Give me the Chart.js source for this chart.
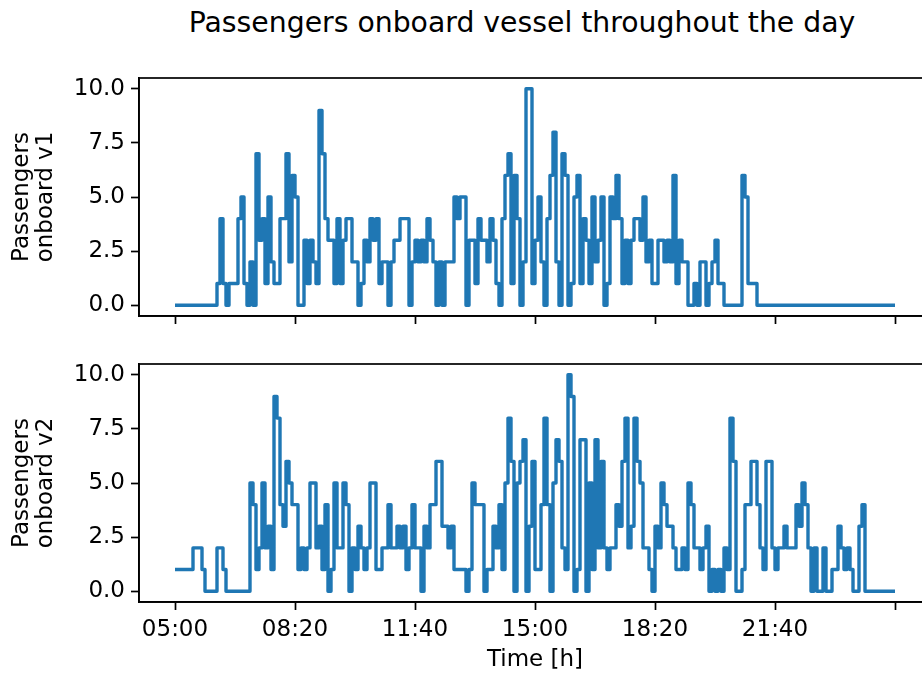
<!DOCTYPE html>
<html>
<head>
<meta charset="utf-8">
<title>Passengers onboard vessel throughout the day</title>
<script src="https://cdn.jsdelivr.net/npm/chart.js@4.4.1/dist/chart.umd.min.js"></script>
<style>
    html, body {
        margin: 0;
        padding: 0;
        width: 922px;
        height: 675px;
        overflow: hidden;
        background: #ffffff;
    }
    #suptitle {
        position: absolute;
        left: 0;
        width: 1044px;
        top: 7px;
        text-align: center;
        font-family: 'DejaVu Sans', sans-serif;
        font-size: 28.3px;
        line-height: 31px;
        color: #000;
        white-space: nowrap;
    }
    #chartV1 { position: absolute; left: 0; top: 0; }
    #chartV2 { position: absolute; left: 0; top: 340px; }
</style>
</head>
<body>
<div id="suptitle">Passengers onboard vessel throughout the day</div>
<canvas id="chartV1" width="940" height="340"></canvas>
<canvas id="chartV2" width="940" height="335"></canvas>

<script>
// Sampling step of the series, minutes after 05:00
const stepMinutes = 5;

// Passengers onboard vessel 1 (one value per 5 minutes, 05:00 -> 01:00)
const passengersV1 = [
    0, 0, 0, 0, 0, 0, 0, 0, 0, 0,
    0, 0, 0, 0, 1, 4, 1, 0, 1, 1,
    1, 4, 5, 1, 0, 2, 0, 7, 3, 4,
    1, 5, 2, 1, 1, 4, 4, 7, 2, 6,
    5, 0, 0, 3, 1, 3, 2, 1, 9, 7,
    4, 3, 3, 1, 4, 1, 3, 4, 4, 2,
    2, 0, 1, 3, 2, 4, 3, 4, 1, 2,
    2, 0, 2, 3, 3, 4, 4, 4, 0, 2,
    3, 2, 3, 2, 4, 3, 2, 0, 2, 0,
    2, 2, 2, 5, 4, 5, 5, 0, 3, 3,
    1, 4, 3, 3, 2, 4, 3, 1, 0, 4,
    6, 7, 1, 6, 4, 0, 2, 10, 10, 1,
    3, 5, 2, 0, 4, 6, 8, 2, 0, 7,
    6, 0, 1, 5, 6, 1, 4, 3, 1, 5,
    2, 3, 5, 0, 1, 5, 4, 6, 4, 1,
    3, 1, 3, 4, 4, 3, 5, 2, 3, 1,
    1, 3, 3, 2, 3, 2, 6, 1, 3, 2,
    2, 0, 0, 1, 0, 2, 2, 0, 1, 2,
    3, 1, 1, 0, 0, 0, 0, 0, 0, 6,
    5, 1, 1, 1, 0, 0, 0, 0, 0, 0,
    0, 0, 0, 0, 0, 0, 0, 0, 0, 0,
    0, 0, 0, 0, 0, 0, 0, 0, 0, 0,
    0, 0, 0, 0, 0, 0, 0, 0, 0, 0,
    0, 0, 0, 0, 0, 0, 0, 0, 0, 0,
    0
];

// Passengers onboard vessel 2
const passengersV2 = [
    1, 1, 1, 1, 1, 1, 2, 2, 2, 1,
    0, 0, 0, 0, 2, 2, 1, 0, 0, 0,
    0, 0, 0, 0, 0, 5, 4, 1, 2, 5,
    2, 3, 1, 9, 8, 4, 3, 6, 5, 4,
    4, 1, 2, 1, 2, 5, 5, 2, 3, 1,
    4, 0, 1, 5, 2, 2, 5, 4, 0, 2,
    1, 3, 2, 1, 2, 5, 5, 1, 1, 2,
    2, 4, 2, 2, 3, 2, 3, 1, 2, 4,
    2, 2, 0, 3, 2, 4, 4, 6, 6, 3,
    3, 2, 3, 1, 1, 1, 1, 0, 1, 5,
    4, 4, 4, 0, 1, 1, 3, 2, 4, 1,
    5, 8, 6, 0, 5, 6, 7, 0, 3, 6,
    1, 1, 4, 8, 4, 0, 5, 7, 6, 2,
    1, 10, 9, 0, 1, 7, 7, 0, 5, 1,
    7, 2, 6, 2, 1, 2, 2, 4, 3, 6,
    8, 2, 3, 8, 6, 5, 2, 2, 1, 0,
    3, 2, 5, 4, 3, 3, 2, 1, 1, 2,
    1, 5, 4, 2, 2, 1, 2, 3, 0, 1,
    0, 1, 0, 2, 1, 8, 6, 0, 0, 1,
    4, 4, 6, 6, 4, 2, 1, 6, 6, 2,
    1, 2, 2, 3, 2, 2, 2, 4, 3, 5,
    4, 2, 0, 2, 0, 0, 2, 0, 0, 1,
    1, 3, 2, 1, 2, 1, 0, 0, 3, 4,
    0, 0, 0, 0, 0, 0, 0, 0, 0, 0,
    0
];

// Axis ticks
const timeTicks = [0, 200, 400, 600, 800, 1000, 1200];
const timeTickLabels = ['05:00', '08:20', '11:40', '15:00', '18:20', '21:40', ''];
const passengerTicks = [0, 2.5, 5, 7.5, 10];

document.addEventListener('DOMContentLoaded', function() {
    Chart.defaults.font.family = "'DejaVu Sans', sans-serif";
    Chart.defaults.color = '#000';

    createPassengerChart('chartV1', passengersV1, ['Passengers', 'onboard v1'], false);
    createPassengerChart('chartV2', passengersV2, ['Passengers', 'onboard v2'], true);
});

// Draws the full box around the plot area, like matplotlib spines
const framePlugin = {
    id: 'frame',
    afterDraw(chart) {
        const { ctx, chartArea } = chart;
        ctx.save();
        ctx.strokeStyle = '#000';
        ctx.lineWidth = 1.7;
        ctx.strokeRect(chartArea.left, chartArea.top,
            chartArea.right - chartArea.left, chartArea.bottom - chartArea.top);
        ctx.restore();
    }
};

function toPoints(values) {
    return values.map((v, i) => ({ x: i * stepMinutes, y: v }));
}

function createPassengerChart(canvasId, values, yTitle, showTimeAxis) {
    const ctx = document.getElementById(canvasId).getContext('2d');
    // top chart area 78..316, bottom chart area 364..602 (page coords)
    const paddingTop = showTimeAxis ? 24 : 78;
    const xAxisHeight = showTimeAxis ? 73 : 24;

    new Chart(ctx, {
        type: 'line',
        data: {
            datasets: [{
                data: toPoints(values),
                borderColor: '#1f77b4',
                borderWidth: 3.4,
                borderJoinStyle: 'round',
                borderCapStyle: 'butt',
                stepped: 'before',
                pointRadius: 0,
                fill: false
            }]
        },
        options: {
            responsive: false,
            animation: false,
            events: [],
            layout: {
                padding: { top: paddingTop, right: 9, bottom: 0, left: 0 }
            },
            plugins: {
                legend: { display: false },
                tooltip: { enabled: false }
            },
            scales: {
                x: {
                    type: 'linear',
                    min: -60,
                    max: 1260,
                    afterBuildTicks: (scale) => {
                        scale.ticks = timeTicks.map(v => ({ value: v }));
                    },
                    afterFit: (scale) => {
                        scale.height = xAxisHeight;
                    },
                    ticks: {
                        display: showTimeAxis,
                        autoSkip: false,
                        maxRotation: 0,
                        padding: 6,
                        font: { size: 23 },
                        callback: (value) => {
                            const idx = timeTicks.indexOf(value);
                            return idx >= 0 ? timeTickLabels[idx] : '';
                        }
                    },
                    grid: {
                        drawOnChartArea: false,
                        drawTicks: true,
                        tickLength: 8,
                        tickWidth: 1.7,
                        tickColor: '#000'
                    },
                    border: { display: true, color: '#000', width: 1.7 },
                    title: {
                        display: showTimeAxis,
                        text: 'Time [h]',
                        font: { size: 23 },
                        padding: { top: 0, bottom: 1 }
                    }
                },
                y: {
                    min: -0.5,
                    max: 10.5,
                    afterBuildTicks: (scale) => {
                        scale.ticks = passengerTicks.map(v => ({ value: v }));
                    },
                    afterFit: (scale) => {
                        scale.width = 139;
                    },
                    ticks: {
                        padding: 6,
                        font: { size: 23 },
                        callback: (value) => value.toFixed(1)
                    },
                    grid: {
                        drawOnChartArea: false,
                        drawTicks: true,
                        tickLength: 8,
                        tickWidth: 1.7,
                        tickColor: '#000'
                    },
                    border: { display: true, color: '#000', width: 1.7 },
                    title: {
                        display: true,
                        text: yTitle,
                        font: { size: 23, lineHeight: 1.05 },
                        padding: { top: 10, bottom: 0 }
                    }
                }
            }
        },
        plugins: [framePlugin]
    });
}
</script>
</body>
</html>
